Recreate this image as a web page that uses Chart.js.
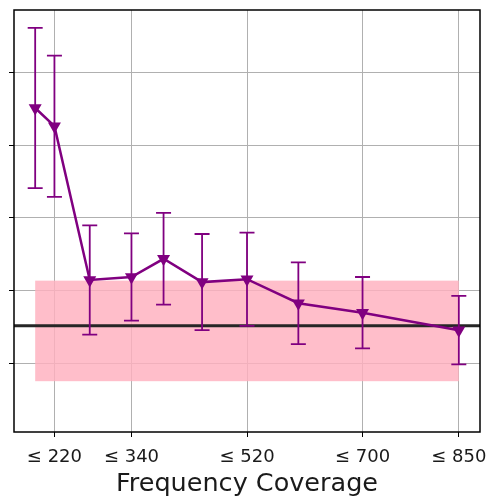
<!DOCTYPE html>
<html>
<head>
<meta charset="utf-8">
<script src="https://cdn.jsdelivr.net/npm/chart.js@4.4.0/dist/chart.umd.min.js"></script>
<style>
  html, body { margin: 0; padding: 0; background: #fff; }
  canvas { display: block; }
</style>
</head>
<body>
<canvas id="c" width="489" height="500"></canvas>
<script>
// Frequency coverage thresholds and the mean score at each, with its error.
const coverage = [190, 220, 275, 340, 390, 450, 520, 600, 700, 850];
const score = [4.51, 4.26, 2.15, 2.19, 2.44, 2.12, 2.16, 1.83, 1.70, 1.46];
const scoreErr = [1.10, 0.97, 0.75, 0.60, 0.63, 0.66, 0.64, 0.56, 0.49, 0.47];

// Axis ticks
const coverageTicks = [220, 340, 520, 700, 850];
const scoreTicks = [1, 2, 3, 4, 5];

// Reference level and its spread
const baseline = [1.52];
const bandRange = [0.76, 2.14];
const bandSpan = [190, 850];

const FONT = "'DejaVu Sans', sans-serif";

const overlays = {
  id: 'overlays',
  beforeDatasetsDraw(chart) {
    const { ctx, chartArea: a, scales: { x, y } } = chart;
    ctx.save();
    ctx.beginPath();
    ctx.rect(a.left, a.top, a.right - a.left, a.bottom - a.top);
    ctx.clip();

    // shaded spread band
    const bx0 = x.getPixelForValue(bandSpan[0]);
    const bx1 = x.getPixelForValue(bandSpan[1]);
    const by0 = y.getPixelForValue(bandRange[1]);
    const by1 = y.getPixelForValue(bandRange[0]);
    ctx.fillStyle = 'rgba(255,176,190,0.82)';
    ctx.fillRect(bx0, by0, bx1 - bx0, by1 - by0);

    // reference level
    const yb = y.getPixelForValue(baseline[0]);
    ctx.strokeStyle = '#262626';
    ctx.lineWidth = 3;
    ctx.beginPath();
    ctx.moveTo(a.left, yb);
    ctx.lineTo(a.right, yb);
    ctx.stroke();

    // error bars with caps
    ctx.strokeStyle = '#800080';
    ctx.lineWidth = 1.8;
    const cap = 7.5;
    coverage.forEach((c, i) => {
      const px = x.getPixelForValue(c);
      const top = y.getPixelForValue(score[i] + scoreErr[i]);
      const bot = y.getPixelForValue(score[i] - scoreErr[i]);
      ctx.beginPath();
      ctx.moveTo(px, top); ctx.lineTo(px, bot);
      ctx.moveTo(px - cap, top); ctx.lineTo(px + cap, top);
      ctx.moveTo(px - cap, bot); ctx.lineTo(px + cap, bot);
      ctx.stroke();
    });
    ctx.restore();
  },
  afterDraw(chart) {
    const { ctx, chartArea: a } = chart;
    ctx.save();
    ctx.strokeStyle = '#000';
    ctx.lineWidth = 1.5;
    ctx.strokeRect(a.left, a.top, a.right - a.left, a.bottom - a.top);
    ctx.restore();
  }
};

new Chart(document.getElementById('c'), {
  type: 'line',
  data: {
    datasets: [{
      data: coverage.map((c, i) => ({ x: c, y: score[i] })),
      borderColor: '#800080',
      borderWidth: 2.5,
      backgroundColor: '#800080',
      pointStyle: 'triangle',
      rotation: 180,
      pointRadius: 7.5,
      pointBorderWidth: 0,
      pointBackgroundColor: '#800080',
      tension: 0,
      fill: false
    }]
  },
  options: {
    responsive: false,
    animation: false,
    devicePixelRatio: 1,
    layout: { padding: { top: 10, right: 9, left: 0, bottom: 0 } },
    plugins: {
      legend: { display: false },
      tooltip: { enabled: false }
    },
    scales: {
      x: {
        type: 'linear',
        min: 157,
        max: 883,
        afterBuildTicks: (s) => { s.ticks = coverageTicks.map(v => ({ value: v })); },
        afterFit: (s) => { s.height = 68; s.paddingLeft = 0; s.paddingRight = 0; },
        border: { display: false },
        grid: {
          color: '#b0b0b0',
          lineWidth: 1,
          drawTicks: true,
          tickLength: 5,
          tickColor: '#000',
          tickWidth: 1
        },
        ticks: {
          autoSkip: false,
          maxRotation: 0,
          padding: 10,
          color: '#1a1a1a',
          font: { family: FONT, size: 18 },
          callback: (v) => '\u2264 ' + v
        },
        title: {
          display: true,
          text: 'Frequency Coverage',
          color: '#1a1a1a',
          font: { family: FONT, size: 25.5 },
          padding: { top: 0, bottom: 0 }
        }
      },
      y: {
        type: 'linear',
        min: 0.0625,
        max: 5.855,
        afterBuildTicks: (s) => { s.ticks = scoreTicks.map(v => ({ value: v })); },
        afterFit: (s) => { s.width = 14; s.paddingTop = 0; s.paddingBottom = 0; },
        border: { display: false },
        grid: {
          color: '#b0b0b0',
          lineWidth: 1,
          drawTicks: true,
          tickLength: 5,
          tickColor: '#000',
          tickWidth: 1
        },
        ticks: { display: false }
      }
    }
  },
  plugins: [overlays]
});
</script>
</body>
</html>
